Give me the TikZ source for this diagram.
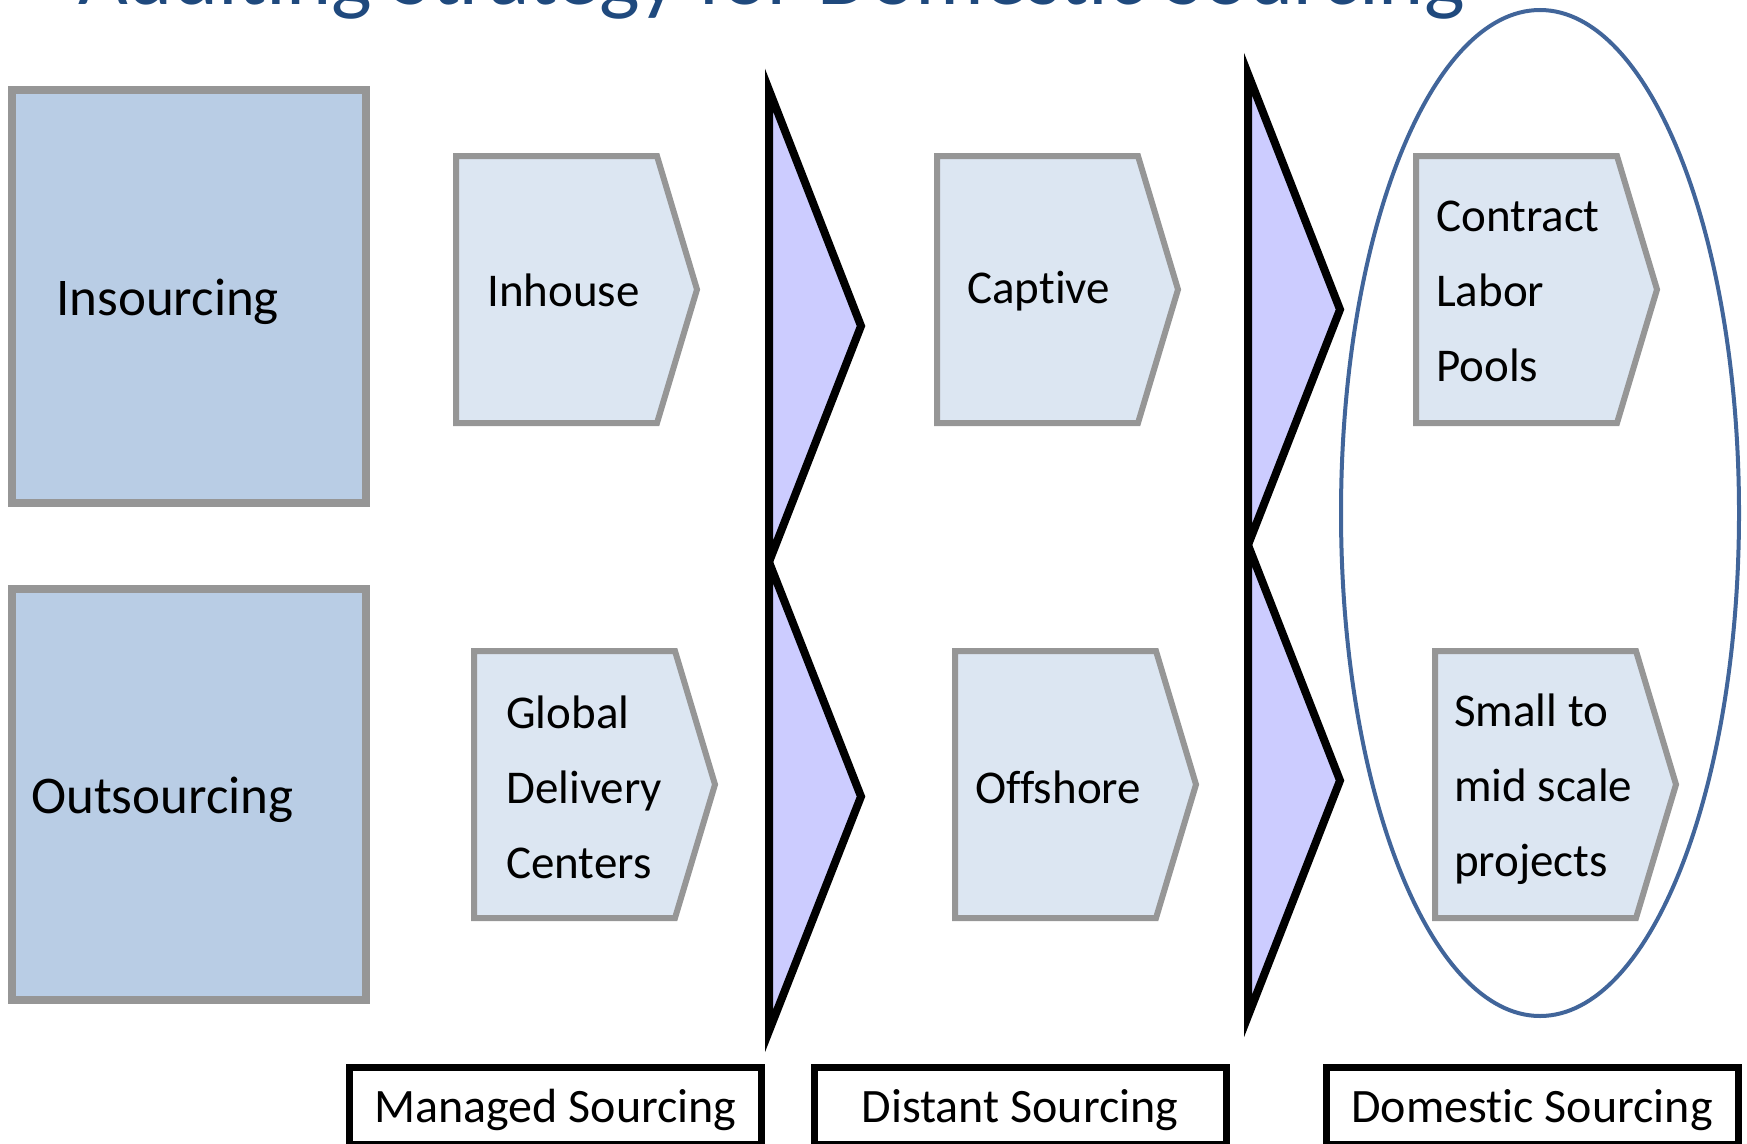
\documentclass[tikz,border=0pt]{standalone}
\usepackage{fontspec}
\setmainfont{Carlito}[Ligatures=NoCommon]
\definecolor{boxblue}{HTML}{B9CDE5}
\definecolor{plateblue}{HTML}{DCE6F2}
\definecolor{plategray}{HTML}{969696}
\definecolor{wedgeblue}{HTML}{CCCCFF}
\definecolor{ringblue}{HTML}{41659A}
\definecolor{titleblue}{HTML}{1F497D}
\newcommand{\pw}{241}
\newcommand{\ph}{267}
\newcommand{\ps}{40}
\newcommand{\plate}[2]{\filldraw[plate] (#1,#2) -- ++({\pw-\ps},0) -- ++(\ps,{\ph/2}) -- ++(-\ps,{\ph/2}) -- ++({\ps-\pw},0) -- cycle;}
\newcommand{\sortwedge}[3]{\filldraw[wedge] (#1,#2) -- ({#1+92},{(#2+#3)/2}) -- (#1,#3) -- cycle;}
\tikzset{
  bigbox/.style={draw=plategray, fill=boxblue, line width=8pt},
  plate/.style={draw=plategray, fill=plateblue, line width=6pt, line join=miter},
  wedge/.style={draw=black, fill=wedgeblue, line width=8pt, line join=miter},
  tagbox/.style={draw=black, line width=7pt, minimum width=412pt, minimum height=77pt, inner sep=0pt, text height=35pt, text depth=2pt, font=\fontsize{48}{56}\selectfont},
  ring/.style={draw=ringblue, line width=4pt},
  txt/.style={font=\fontsize{47}{75}\selectfont, align=left, anchor=west, inner sep=0pt},
  bigtxt/.style={font=\fontsize{53}{64}\selectfont, anchor=west, inner sep=0pt}
}

\begin{document}
\begin{tikzpicture}[x=1pt,y=-1pt]
    \useasboundingbox (0,0) rectangle (1747,1143);
    \node[anchor=base west, inner sep=0pt, text=titleblue, font=\fontsize{86}{100}\selectfont] (title) at (78,5) {Auditing Strategy for Domestic Sourcing};
    \draw[bigbox] (12,90) rectangle (366,503);
    \draw[bigbox] (12,589) rectangle (366,1000);
    \node[bigtxt] (insourcing) at (56,302) {Insourcing};
    \node[bigtxt] (outsourcing) at (31,800) {Outsourcing};
    \plate{456}{156}
    \plate{474}{651}
    \plate{937}{156}
    \plate{955}{651}
    \plate{1416}{156}
    \plate{1435}{651}
    \node[txt] (inhouse) at (487,290) {Inhouse};
    \node[txt] (global) at (506,787) {Global\\Delivery\\Centers};
    \node[txt] (captive) at (967,291) {Captive};
    \node[txt] (offshore) at (975,787) {Offshore};
    \node[txt] (contract) at (1436,291) {Contract\\Labor\\Pools};
    \node[txt] (small) at (1454,789) {Small to\\mid scale\\projects};
    \sortwedge{769}{90}{562}
    \sortwedge{769}{562}{1031}
    \sortwedge{1248}{74}{545}
    \sortwedge{1248}{545}{1016}
    \draw[ring] (1540,513) ellipse [x radius=199, y radius=503];
    \node[tagbox] (managed) at (555.5,1105.5) {Managed Sourcing};
    \node[tagbox] (distant) at (1020,1105.5) {Distant Sourcing};
    \node[tagbox] (domestic) at (1532,1105.5) {Domestic Sourcing};
\end{tikzpicture}
\end{document}
